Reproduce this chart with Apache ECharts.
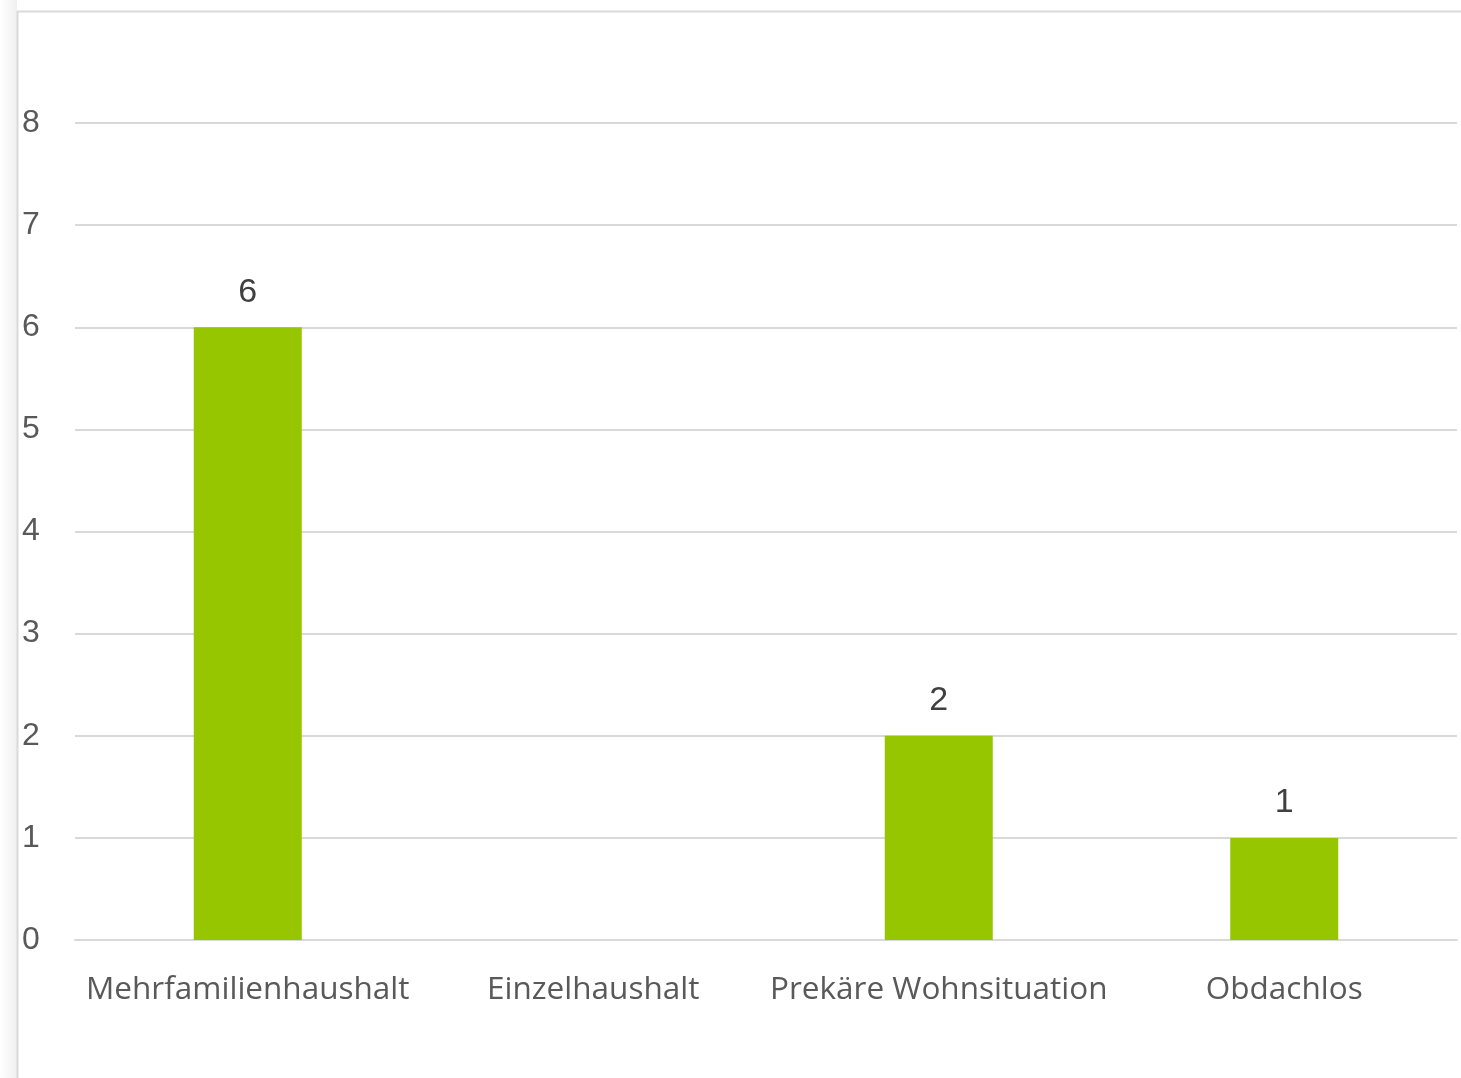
<!DOCTYPE html>
<html>
<head>
<meta charset="utf-8">
<script src="https://cdn.jsdelivr.net/npm/echarts@6/dist/echarts.min.js"></script>
<style>
  html, body { margin: 0; padding: 0; background: #fff; }
  #chart { width: 1461px; height: 1078px; }
</style>
</head>
<body>
<div id="chart"></div>
<script>
// Daten
const categories = ["Mehrfamilienhaushalt", "Einzelhaushalt", "Prekäre Wohnsituation", "Obdachlos"];
const values = [6, 0, 2, 1];
const yTicks = [0, 1, 2, 3, 4, 5, 6, 7, 8];

const chart = echarts.init(document.getElementById("chart"));
chart.setOption({
  animation: false,
  textStyle: { fontFamily: "Open Sans" },
  // Rahmen links und oben
  graphic: [
    { type: "rect", shape: { x: 0, y: 0, width: 17, height: 1078 },
      style: { fill: new echarts.graphic.LinearGradient(0, 0, 1, 0, [
        { offset: 0, color: "#ffffff" }, { offset: 1, color: "#f0f0f0" }]) } },
    { type: "line", shape: { x1: 17.5, y1: 11, x2: 17.5, y2: 1078 },
      style: { stroke: "#d9d9d9", lineWidth: 2 } },
    { type: "line", shape: { x1: 17, y1: 11.5, x2: 1461, y2: 11.5 },
      style: { stroke: "#d9d9d9", lineWidth: 2 } }
  ],
  grid: { left: 75, right: 4, top: 123, bottom: 138 },
  xAxis: {
    type: "category",
    data: categories,
    axisLine: { show: true, lineStyle: { color: "#d9d9d9", width: 2 } },
    axisTick: { show: false },
    axisLabel: { color: "#595959", fontSize: 31.5, margin: 34, interval: 0 }
  },
  yAxis: {
    type: "value",
    min: yTicks[0],
    max: yTicks[yTicks.length - 1],
    interval: 1,
    axisLine: { show: false },
    axisTick: { show: false },
    splitLine: { lineStyle: { color: "#d9d9d9", width: 2 } },
    axisLabel: { color: "#595959", fontSize: 32, fontFamily: "Liberation Sans", align: "left", margin: 53 }
  },
  series: [
    {
      type: "bar",
      data: values.map(v => (v === 0 ? null : v)),
      barWidth: 108,
      itemStyle: { color: "#95c600" },
      label: {
        show: true,
        position: "top",
        distance: 18,
        color: "#404040",
        fontSize: 34,
        fontFamily: "Liberation Sans"
      }
    }
  ]
});
</script>
</body>
</html>
